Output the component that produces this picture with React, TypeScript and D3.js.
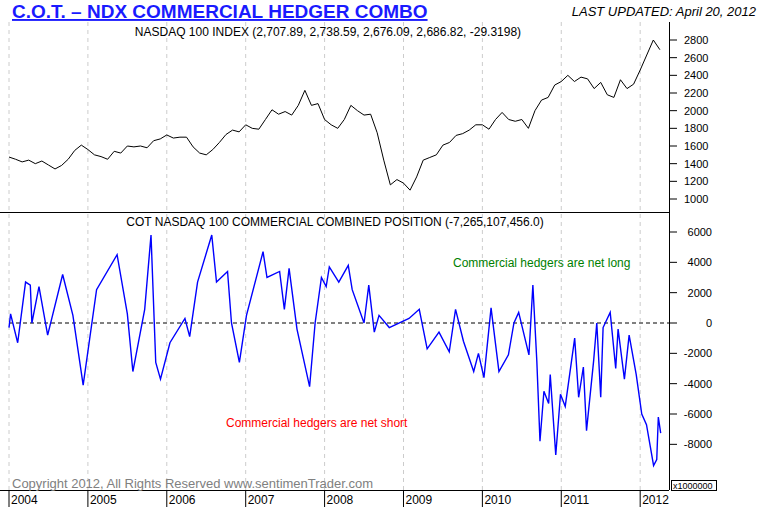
import React from "react";
import * as d3 from "d3";

const ndxStartYear = 2004;
const ndxMonthly = [
  1475, 1450, 1420, 1440, 1400, 1430, 1385, 1340, 1380, 1450, 1550, 1610,
  1560, 1500, 1480, 1450, 1540, 1520, 1600, 1590, 1600, 1580, 1660, 1680,
  1725, 1690, 1700, 1700, 1590, 1520, 1500, 1560, 1640, 1730, 1780, 1760,
  1840, 1800, 1790, 1900, 2010, 1960, 1990, 1950, 2060, 2230, 2060, 2080,
  1900, 1840, 1800, 1900, 2060, 2000, 1950, 1960, 1750, 1440, 1160, 1220,
  1180, 1100, 1250, 1440, 1470, 1500, 1610, 1640, 1720, 1740, 1780, 1840,
  1840, 1790, 1900, 1980, 1900, 1880, 1900, 1800, 2000, 2120, 2150, 2290,
  2330, 2400, 2330, 2380, 2360, 2250, 2320, 2180, 2150, 2350, 2250, 2300,
  2460, 2630, 2800, 2690,
];

const cotDates = [
  2004.0, 2004.02, 2004.11, 2004.21, 2004.27, 2004.29, 2004.38, 2004.49, 2004.68, 2004.81, 2004.94,
  2005.11, 2005.37, 2005.5, 2005.57, 2005.72, 2005.8, 2005.86, 2005.92,
  2006.04, 2006.23, 2006.29, 2006.39, 2006.57, 2006.63, 2006.77, 2006.82, 2006.92,
  2007.01, 2007.22, 2007.27, 2007.43, 2007.49, 2007.55, 2007.65, 2007.81, 2007.88, 2007.96,
  2008.02, 2008.06, 2008.18, 2008.3, 2008.35, 2008.5, 2008.56, 2008.63, 2008.69, 2008.82,
  2009.07, 2009.2, 2009.3, 2009.45, 2009.58, 2009.66, 2009.76, 2009.89, 2009.95,
  2010.02, 2010.11, 2010.21, 2010.33, 2010.4, 2010.46, 2010.59, 2010.64, 2010.69, 2010.73, 2010.78, 2010.84, 2010.86, 2010.93, 2010.99,
  2011.05, 2011.17, 2011.22, 2011.28, 2011.32, 2011.41, 2011.45, 2011.5, 2011.53, 2011.62, 2011.69, 2011.72, 2011.8, 2011.86, 2011.95,
  2012.02, 2012.08, 2012.13, 2012.17, 2012.21, 2012.23, 2012.26,
];
const cotValues = [
  -300, 600, -1300, 2700, 2500, 0, 2400, -800, 3200, 500, -4100,
  2200, 4500, 600, -3200, 900, 5800, -2600, -3700,
  -1300, 300, -900, 2700, 5800, 2700, 3400, 0, -2600,
  500, 4700, 3000, 3400, 900, 3600, -400, -4200, 0, 3000,
  2400, 3700, 2700, 3800, 2200, 0, 2500, -600, 500, -300,
  300, 900, -1700, -600, -1900, 900, -1200, -3200, -2000,
  -3600, 1000, -3200, -2100, 0, 700, -2100, 2500, -2500, -7800, -4500, -5300, -3400, -8700, -4700,
  -5500, -1000, -4900, -2900, -7100, -2500, 0, -4900, -300, 700, -3000, -400, -3700, -800, -3400,
  -6000, -6700, -8200, -9400, -9000, -6200, -7265,
];

const ndxTicks = [1000, 1200, 1400, 1600, 1800, 2000, 2200, 2400, 2600, 2800];
const cotTicks = [-8000, -6000, -4000, -2000, 0, 2000, 4000, 6000];
const years = [2004, 2005, 2006, 2007, 2008, 2009, 2010, 2011, 2012];

export default function App() {
  const W = 762, H = 507;
  const left = 9, right = 669;
  const x = d3.scaleLinear().domain([2004, 2012.34]).range([left, right - 2]);
  const yTop = d3.scaleLinear().domain([1000, 2800]).range([199, 40]);
  const yBot = d3.scaleLinear().domain([0, 6000]).range([323, 232]);

  const ndxPts: [number, number][] = ndxMonthly.map((v, i) => [ndxStartYear + i / 12, v]);
  const ndxLine = d3.line<[number, number]>().x(d => x(d[0])).y(d => yTop(d[1]))(ndxPts) || "";
  const cotPts: [number, number][] = cotDates.map((t, i) => [t, cotValues[i]]);
  const cotLine = d3.line<[number, number]>().x(d => x(d[0])).y(d => yBot(d[1]))(cotPts) || "";

  const font = "Arial, 'Liberation Sans', sans-serif";
  return (
    <svg width={W} height={H} style={{ position: "absolute", left: 0, top: 0, background: "#fff" }} fontFamily={font}>
      <rect width={W} height={H} fill="#fff" />
      {years.map(yr => (
        <line key={"g" + yr} x1={x(yr)} x2={x(yr)} y1={22} y2={490} stroke="#ccc" strokeDasharray="4,4" />
      ))}
      <text x={12} y={18} fontSize={19} fontWeight="bold" fill="#1a1aff" textDecoration="underline">C.O.T. – NDX COMMERCIAL HEDGER COMBO</text>
      <text x={756} y={16} fontSize={13} fontStyle="italic" textAnchor="end" fill="#000">LAST UPDATED:  April 20, 2012</text>
      <text x={328} y={36} fontSize={12} textAnchor="middle" fill="#000">NASDAQ 100 INDEX (2,707.89, 2,738.59, 2,676.09, 2,686.82, -29.3198)</text>
      <text x={335} y={226} fontSize={12} textAnchor="middle" fill="#000">COT NASDAQ 100 COMMERCIAL COMBINED POSITION (-7,265,107,456.0)</text>
      <line x1={0} x2={right} y1={212.5} y2={212.5} stroke="#000" />
      <line x1={right + 0.5} x2={right + 0.5} y1={22} y2={490} stroke="#000" />
      <line x1={0} x2={right} y1={490.5} y2={490.5} stroke="#000" />
      {ndxTicks.map(t => (
        <g key={"n" + t}>
          <line x1={right} x2={right + 8} y1={yTop(t)} y2={yTop(t)} stroke="#000" />
          <text x={684} y={yTop(t) + 4} fontSize={11}>{t}</text>
        </g>
      ))}
      {cotTicks.map(t => (
        <g key={"c" + t}>
          <line x1={right} x2={right + 8} y1={yBot(t)} y2={yBot(t)} stroke="#000" />
          <text x={712} y={yBot(t) + 4} fontSize={11} textAnchor="end">{t}</text>
        </g>
      ))}
      <line x1={left} x2={right} y1={yBot(0)} y2={yBot(0)} stroke="#000" strokeDasharray="4,3" />
      <path d={ndxLine} fill="none" stroke="#000" strokeWidth={1} />
      <path d={cotLine} fill="none" stroke="#0000ff" strokeWidth={1.4} />
      <text x={453} y={267} fontSize={12} fill="#008000">Commercial hedgers are net long</text>
      <text x={226} y={427} fontSize={12} fill="#ff0000">Commercial hedgers are net short</text>
      <text x={12} y={488} fontSize={13} fill="#808080" textLength={361}>Copyright 2012, All Rights Reserved  www.sentimenTrader.com</text>
      <rect x={671.5} y={480.5} width={45} height={10} fill="#fff" stroke="#000" />
      <text x={673} y={489} fontSize={9}>x1000000</text>
      {years.map(yr => (
        <g key={"y" + yr}>
          <line x1={x(yr)} x2={x(yr)} y1={490} y2={507} stroke="#000" />
          <text x={x(yr) + 2} y={504} fontSize={12}>{yr}</text>
        </g>
      ))}
    </svg>
  );
}
